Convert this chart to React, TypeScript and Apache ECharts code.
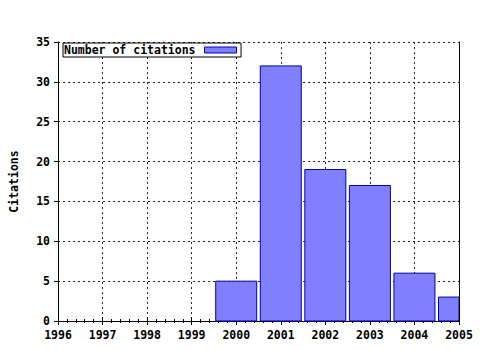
import React, { useEffect, useRef } from "react";
import * as echarts from "echarts";

const years = [2000, 2001, 2002, 2003, 2004, 2005];
const citations = [5, 32, 19, 17, 6, 3];
const seriesName = "Number of citations";
const xMin = 1996;
const xMax = 2005;
const yMin = 0;
const yMax = 35;
const yStep = 5;

const FONT = "'DejaVu Sans Mono', monospace";
const FILL = "#8080ff";
const EDGE = "#0000a8";

export default function App() {
  const ref = useRef<HTMLDivElement>(null);
  useEffect(() => {
    if (!ref.current) return;
    const chart = echarts.init(ref.current, null, { renderer: "svg" });
    const dotted = { color: "#222", width: 1, type: [2, 3] as any };
    const labelStyle = { color: "#000", fontFamily: FONT, fontWeight: "bold" as const, fontSize: 11.5 };
    chart.setOption({
      animation: false,
      backgroundColor: "#fff",
      grid: { left: 58, right: 21, top: 42, bottom: 29, containLabel: false },
      legend: {
        left: 63,
        top: 43,
        align: "right",
        icon: "rect",
        itemWidth: 32,
        itemHeight: 6,
        padding: [1, 4, 1, 1],
        borderColor: "#000",
        borderWidth: 1,
        backgroundColor: "#fff",
        textStyle: { ...labelStyle, padding: [0, 4, 0, 0] },
        data: [{ name: seriesName, itemStyle: { color: FILL, borderColor: EDGE, borderWidth: 1 } }],
      },
      xAxis: [
        {
          type: "value",
          position: "bottom",
          min: xMin,
          max: xMax,
          interval: 1,
          axisLine: { show: true, lineStyle: { color: "#000", width: 1 } },
          axisTick: { show: true, inside: false, length: 4, lineStyle: { color: "#000" } },
          minorTick: { show: true, splitNumber: 5, length: 2, lineStyle: { color: "#000" } },
          splitLine: { show: true, lineStyle: dotted },
          axisLabel: { ...labelStyle, margin: 8, formatter: (v: number) => String(v) },
        },
        {
          type: "value",
          position: "top",
          min: xMin,
          max: xMax,
          interval: 1,
          axisLine: { show: true, lineStyle: { color: "#000", width: 1 } },
          axisTick: { show: true, inside: false, length: 4, lineStyle: { color: "#000" } },
          minorTick: { show: true, splitNumber: 5, length: 2, lineStyle: { color: "#000" } },
          splitLine: { show: false },
          axisLabel: { show: false },
        },
      ],
      yAxis: [
        {
          type: "value",
          position: "left",
          min: yMin,
          max: yMax,
          interval: yStep,
          name: "Citations",
          nameLocation: "middle",
          nameGap: 38,
          nameTextStyle: { ...labelStyle },
          axisLine: { show: true, lineStyle: { color: "#000", width: 1 } },
          axisTick: { show: true, inside: false, length: 4, lineStyle: { color: "#000" } },
          splitLine: { show: true, lineStyle: dotted },
          axisLabel: { ...labelStyle, margin: 8 },
        },
        {
          type: "value",
          position: "right",
          min: yMin,
          max: yMax,
          interval: yStep,
          axisLine: { show: true, lineStyle: { color: "#000", width: 1 } },
          axisTick: { show: false },
          splitLine: { show: false },
          axisLabel: { show: false },
        },
      ],
      series: [
        {
          name: seriesName,
          type: "custom",
          xAxisIndex: 0,
          yAxisIndex: 0,
          encode: { x: 0, y: 1 },
          data: years.map((y, i) => [y, citations[i]]),
          itemStyle: { color: FILL, borderColor: EDGE, borderWidth: 1 },
          renderItem: (params: any, api: any) => {
            const x = api.value(0);
            const v = api.value(1);
            const p0 = api.coord([x, 0]);
            const p1 = api.coord([x, v]);
            const w = api.size([1, 0])[0] * 0.92;
            const cs = params.coordSys;
            const rect = echarts.graphic.clipRectByRect(
              { x: p0[0] - w / 2, y: p1[1], width: w, height: p0[1] - p1[1] },
              { x: cs.x, y: cs.y, width: cs.width, height: cs.height }
            );
            if (!rect) return null;
            return {
              type: "rect",
              shape: rect,
              style: { fill: FILL, stroke: EDGE, lineWidth: 1 },
            };
          },
        },
      ],
    });
    return () => chart.dispose();
  }, []);
  return <div ref={ref} style={{ width: 480, height: 350, position: "absolute", left: 0, top: 0 }} />;
}
